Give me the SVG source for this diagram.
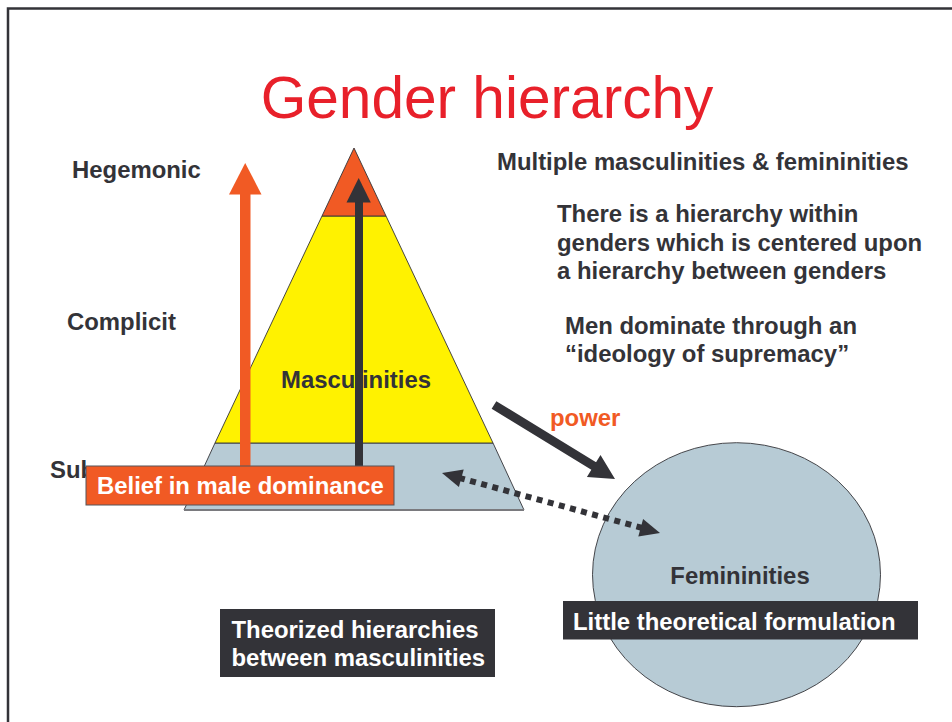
<svg xmlns="http://www.w3.org/2000/svg" width="952" height="722" viewBox="0 0 952 722">
<style>
.t{font-family:"Liberation Sans",Arial,sans-serif;font-weight:bold;font-size:23.9px;fill:#333338}
.w{font-family:"Liberation Sans",Arial,sans-serif;font-weight:bold;font-size:23.9px;fill:#ffffff}
.dark{fill:#333338}
.edge{stroke:#333338;stroke-width:0.9}
</style>
<defs>
<clipPath id="subclip"><rect x="0" y="440" width="86" height="60"/></clipPath>
</defs>
<rect width="952" height="722" fill="#ffffff"/>
<rect x="8" y="8.5" width="970" height="740" fill="none" stroke="#333338" stroke-width="2.5"/>
<text x="487" y="118" text-anchor="middle" font-family="'Liberation Sans',Arial,sans-serif" font-size="58.6" fill="#e8202a">Gender hierarchy</text>

<g id="levels">
<text class="t" x="72" y="178">Hegemonic</text>
<text class="t" x="67" y="330">Complicit</text>
<text class="t" x="50" y="478" clip-path="url(#subclip)">Subordinate</text>
</g>

<g id="pyramid">
<polygon points="215,443 493,443 524,510 184,510" fill="#b7cbd5" class="edge"/>
<line x1="184" y1="510" x2="524" y2="510" stroke="#7a7a7e" stroke-width="2"/>
<polygon points="322,216 386,216 493,443 215,443" fill="#fff200" class="edge"/>
<polygon points="354,148 386,216 322,216" fill="#f15a24" class="edge"/>
<text class="t" x="356" y="388" text-anchor="middle">Masculinities</text>
</g>

<g id="femininities">
<ellipse cx="736.5" cy="574.7" rx="144" ry="132" fill="#b7cbd5" class="edge"/>
<text class="t" x="740" y="584" text-anchor="middle">Femininities</text>
</g>

<g id="connectors">
<g id="orange-arrow" fill="#f15a24">
<rect x="240" y="192" width="10.5" height="290"/>
<polygon points="229,194.5 261.5,194.5 245.2,163"/>
</g>
<g id="dark-arrow" class="dark">
<rect x="355" y="200" width="8" height="266"/>
<polygon points="346.5,202.5 370.8,202.5 358.7,178"/>
</g>
<polygon id="power-arrow" class="dark" points="491.65,408.84 591.35,469.84 586.9,477.1 615,479 600.5,454.9 596.05,462.16 496.35,401.16"/>
<g id="dotted-arrow">
<line x1="459" y1="477.8" x2="643" y2="528.2" stroke="#333338" stroke-width="6" stroke-dasharray="6 5.5"/>
<polygon class="dark" points="442,473 458.9,487 463.7,469.6"/>
<polygon class="dark" points="660,533 638.3,536.4 643.1,519"/>
</g>
</g>

<g id="belief">
<rect x="86" y="466" width="308" height="39" fill="#f15a24" stroke="#55555a" stroke-width="1"/>
<text class="w" x="97" y="494">Belief in male dominance</text>
</g>

<g id="theorized">
<rect x="220" y="609" width="275" height="68" class="dark"/>
<text class="w" x="231.5" y="638">Theorized hierarchies</text>
<text class="w" x="231.5" y="665.5">between masculinities</text>
</g>

<g id="little">
<rect x="563" y="601" width="355" height="38.5" class="dark"/>
<text class="w" x="573" y="629.5">Little theoretical formulation</text>
</g>

<g id="notes">
<text class="t" x="497" y="170">Multiple masculinities &amp; femininities</text>
<text class="t" x="557" y="222">There is a hierarchy within</text>
<text class="t" x="557" y="250.5">genders which is centered upon</text>
<text class="t" x="557" y="278.5">a hierarchy between genders</text>
<text class="t" x="565" y="334">Men dominate through an</text>
<text class="t" x="565" y="362">“ideology of supremacy”</text>
<text x="550" y="426" font-family="'Liberation Sans',Arial,sans-serif" font-weight="bold" font-size="23.9" fill="#f15a24">power</text>
</g>
</svg>
